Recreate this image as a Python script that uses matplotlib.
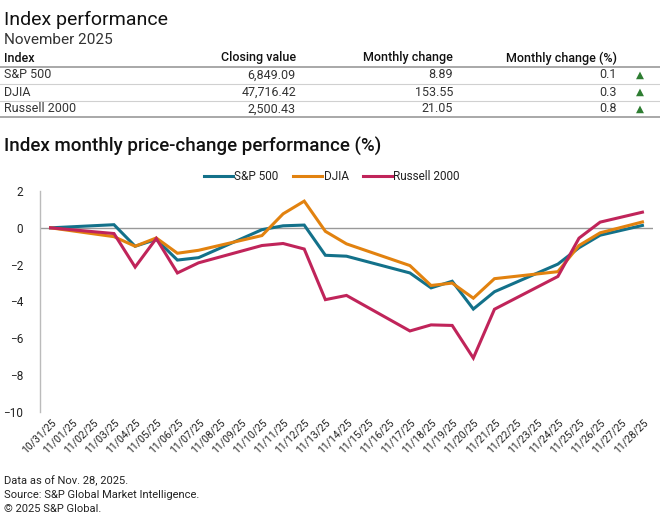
import matplotlib
matplotlib.use("Agg")
import matplotlib.pyplot as plt

plt.rcParams["font.family"] = ["Roboto", "DejaVu Sans"]

# table data
table_index = ["S&P 500", "DJIA", "Russell 2000"]
closing_value = ["6,849.09", "47,716.42", "2,500.43"]
monthly_change = ["8.89", "153.55", "21.05"]
monthly_change_pct = ["0.1", "0.3", "0.8"]

# chart data
dates = ["10/31/25", "11/01/25", "11/02/25", "11/03/25", "11/04/25", "11/05/25",
         "11/06/25", "11/07/25", "11/08/25", "11/09/25", "11/10/25", "11/11/25",
         "11/12/25", "11/13/25", "11/14/25", "11/15/25", "11/16/25", "11/17/25",
         "11/18/25", "11/19/25", "11/20/25", "11/21/25", "11/22/25", "11/23/25",
         "11/24/25", "11/25/25", "11/26/25", "11/27/25", "11/28/25"]
trading_days = ["10/31/25", "11/03/25", "11/04/25", "11/05/25", "11/06/25", "11/07/25",
                "11/10/25", "11/11/25", "11/12/25", "11/13/25", "11/14/25", "11/17/25",
                "11/18/25", "11/19/25", "11/20/25", "11/21/25", "11/24/25", "11/25/25",
                "11/26/25", "11/28/25"]
sp500 = [0, 0.17, -1.0, -0.63, -1.75, -1.62, -0.1, 0.11, 0.15, -1.49, -1.54,
         -2.45, -3.26, -2.9, -4.41, -3.47, -1.97, -1.08, -0.4, 0.13]
djia = [0, -0.48, -1.0, -0.55, -1.38, -1.22, -0.42, 0.76, 1.45, -0.19, -0.87,
        -2.05, -3.13, -3.0, -3.82, -2.76, -2.38, -0.96, -0.27, 0.32]
russell = [0, -0.31, -2.13, -0.58, -2.45, -1.9, -0.96, -0.85, -1.15, -3.9, -3.67,
           -5.6, -5.27, -5.3, -7.07, -4.42, -2.64, -0.56, 0.31, 0.85]

series = [("S&P 500", sp500, "#13718a"),
          ("DJIA", djia, "#e2820f"),
          ("Russell 2000", russell, "#c0245a")]

fig = plt.figure(figsize=(6.6, 5.27), dpi=100)

def px(x, y):
    return x / 660, 1 - y / 527

# header texts
fig.text(*px(4, 20), "Index performance", fontsize=14, va="center", color="#111111")
fig.text(*px(4, 40), "November 2025", fontsize=11, va="center", color="#333333")

cols = [(4, "left"), (296, "right"), (453, "right"), (617, "right")]
headers = ["Index", "Closing value", "Monthly change", "Monthly change (%)"]
for (x, ha), h in zip(cols, headers):
    fig.text(*px(x, 58), h, fontsize=9, ha=ha, va="center", fontweight="medium", color="#111111")

row_y = [75, 92, 109]
for i, y in enumerate(row_y):
    vals = [table_index[i], closing_value[i], monthly_change[i], monthly_change_pct[i]]
    for (x, ha), v in zip(cols, vals):
        fig.text(*px(x, y), v, fontsize=9, ha=ha, va="center", color="#333333")
    fig.text(*px(640, y), "\u25B2", fontsize=7.5, ha="center", va="center",
             color="#2e7d32", family="DejaVu Sans")

for y, c, lw in [(66.5, "#9a9a9a", 1.2), (83.5, "#d0d0d0", 0.8), (100.5, "#d0d0d0", 0.8),
                 (117.5, "#9a9a9a", 1.2)]:
    fig.add_artist(plt.Line2D([0, 1], [1 - y / 527] * 2, color=c, lw=lw,
                              transform=fig.transFigure))

fig.text(*px(4, 146), "Index monthly price-change performance (%)", fontsize=13.5,
         va="center", fontweight="medium", color="#111111")

# chart
ax = fig.add_axes([40 / 660, 1 - 412 / 527, 613 / 660, 221 / 527])
xpos = [dates.index(d) for d in trading_days]
for name, vals, color in series:
    ax.plot(xpos, vals, color=color, lw=2.2, label=name, solid_joinstyle="miter")

ax.axhline(0, color="#999999", lw=1, zorder=0)
ax.set_xlim(-0.5, len(dates) - 0.5)
ax.set_ylim(-10, 2)
ax.set_yticks(range(-10, 3, 2))
ax.set_xticks(range(len(dates)))
ax.set_xticklabels(dates, rotation=45, ha="right", rotation_mode="anchor", fontsize=7.5)
ax.tick_params(axis="x", length=0, pad=4, labelcolor="#222222")
ax.tick_params(axis="y", length=0, pad=12, labelsize=8.5, labelcolor="#222222")
for s in ["top", "right", "bottom"]:
    ax.spines[s].set_visible(False)
ax.spines["left"].set_color("#bbbbbb")
ax.spines["left"].set_linewidth(1)

ax.legend(loc="lower center", bbox_to_anchor=(0.476, 1.0), ncol=3, frameon=False,
          fontsize=8.5, handlelength=2.5, columnspacing=1.2, handletextpad=0.1,
          borderaxespad=0.3, labelcolor="#222222")

fig.text(*px(4, 481), "Data as of Nov. 28, 2025.", fontsize=8, va="center", color="#222222")
fig.text(*px(4, 495), "Source: S&P Global Market Intelligence.", fontsize=8, va="center",
         color="#222222")
fig.text(*px(4, 509), "\u00a9 2025 S&P Global.", fontsize=8, va="center", color="#222222")

fig.savefig("out.png", dpi=100)
